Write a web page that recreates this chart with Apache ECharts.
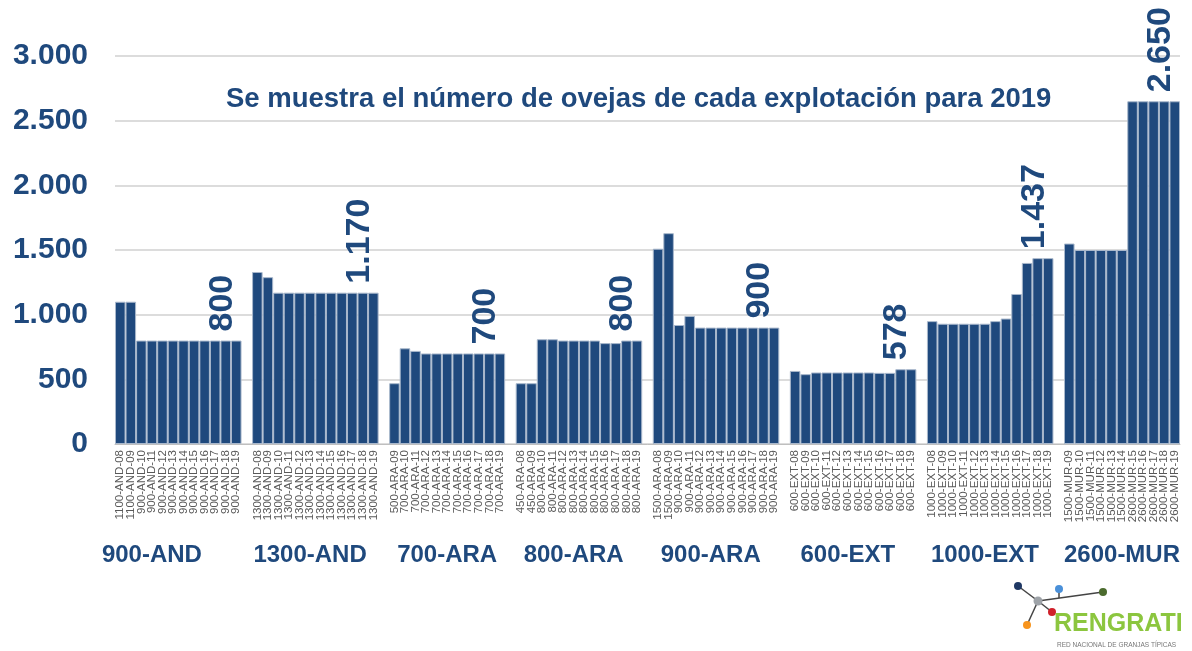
<!DOCTYPE html>
<html>
<head>
<meta charset="utf-8">
<title>Ovejas por explotación 2019</title>
<script src="https://cdn.jsdelivr.net/npm/echarts@6/dist/echarts.min.js"></script>
<style>
  html, body { margin: 0; padding: 0; background: #fff; }
  #chart { width: 1192px; height: 651px; }
</style>
</head>
<body>
<div id="chart"></div>
<script>
// grupos de explotaciones
var groups = ['900-AND', '1300-AND', '700-ARA', '800-ARA', '900-ARA', '600-EXT', '1000-EXT', '2600-MUR'];

// etiquetas de cada barra
var cats900AND = ['1100-AND-08', '1100-AND-09', '900-AND-10', '900-AND-11', '900-AND-12', '900-AND-13', '900-AND-14', '900-AND-15', '900-AND-16', '900-AND-17', '900-AND-18', '900-AND-19'];
var cats1300AND = ['1300-AND-08', '1300-AND-09', '1300-AND-10', '1300-AND-11', '1300-AND-12', '1300-AND-13', '1300-AND-14', '1300-AND-15', '1300-AND-16', '1300-AND-17', '1300-AND-18', '1300-AND-19'];
var cats700ARA = ['500-ARA-09', '700-ARA-10', '700-ARA-11', '700-ARA-12', '700-ARA-13', '700-ARA-14', '700-ARA-15', '700-ARA-16', '700-ARA-17', '700-ARA-18', '700-ARA-19'];
var cats800ARA = ['450-ARA-08', '450-ARA-09', '800-ARA-10', '800-ARA-11', '800-ARA-12', '800-ARA-13', '800-ARA-14', '800-ARA-15', '800-ARA-16', '800-ARA-17', '800-ARA-18', '800-ARA-19'];
var cats900ARA = ['1500-ARA-08', '1500-ARA-09', '900-ARA-10', '900-ARA-11', '900-ARA-12', '900-ARA-13', '900-ARA-14', '900-ARA-15', '900-ARA-16', '900-ARA-17', '900-ARA-18', '900-ARA-19'];
var cats600EXT = ['600-EXT-08', '600-EXT-09', '600-EXT-10', '600-EXT-11', '600-EXT-12', '600-EXT-13', '600-EXT-14', '600-EXT-15', '600-EXT-16', '600-EXT-17', '600-EXT-18', '600-EXT-19'];
var cats1000EXT = ['1000-EXT-08', '1000-EXT-09', '1000-EXT-10', '1000-EXT-11', '1000-EXT-12', '1000-EXT-13', '1000-EXT-14', '1000-EXT-15', '1000-EXT-16', '1000-EXT-17', '1000-EXT-18', '1000-EXT-19'];
var cats2600MUR = ['1500-MUR-09', '1500-MUR-10', '1500-MUR-11', '1500-MUR-12', '1500-MUR-13', '1500-MUR-14', '2600-MUR-15', '2600-MUR-16', '2600-MUR-17', '2600-MUR-18', '2600-MUR-19'];

// numero de ovejas
var vals900AND = [1100, 1100, 800, 800, 800, 800, 800, 800, 800, 800, 800, 800];
var vals1300AND = [1330, 1290, 1170, 1170, 1170, 1170, 1170, 1170, 1170, 1170, 1170, 1170];
var vals700ARA = [470, 740, 720, 700, 700, 700, 700, 700, 700, 700, 700];
var vals800ARA = [470, 470, 810, 810, 800, 800, 800, 800, 780, 780, 800, 800];
var vals900ARA = [1510, 1630, 920, 990, 900, 900, 900, 900, 900, 900, 900, 900];
var vals600EXT = [565, 540, 553, 553, 553, 553, 553, 553, 550, 550, 578, 578];
var vals1000EXT = [950, 930, 930, 930, 930, 930, 950, 970, 1160, 1400, 1437, 1437];
var vals2600MUR = [1550, 1500, 1500, 1500, 1500, 1500, 2650, 2650, 2650, 2650, 2650];

var yTicks = [0, 500, 1000, 1500, 2000, 2500, 3000];

var allCats = [cats900AND, cats1300AND, cats700ARA, cats800ARA, cats900ARA, cats600EXT, cats1000EXT, cats2600MUR];
var allVals = [vals900AND, vals1300AND, vals700ARA, vals800ARA, vals900ARA, vals600EXT, vals1000EXT, vals2600MUR];

var azul = '#1f497d';

function miles(v) {
    return String(v).replace(/\B(?=(\d{3})+(?!\d))/g, '.');
}

// montar categorias con un hueco entre grupos
var categories = [];
var groupAxis = [];
var seriesData = [];
for (var g = 0; g < allCats.length; g++) {
    if (g > 0) {
        categories.push('');
        groupAxis.push('');
        seriesData.push('-');
    }
    var slotNombre = g === 0 ? 3 : 5; // el primero va algo a la izquierda
    for (var i = 0; i < allCats[g].length; i++) {
        categories.push(allCats[g][i]);
        groupAxis.push(i === slotNombre ? groups[g] : '');
        var last = i === allCats[g].length - 1;
        seriesData.push({
            value: allVals[g][i],
            label: { show: last }
        });
    }
}

var myChart = echarts.init(document.getElementById('chart'));

var option = {
    animation: false,
    title: {
        text: 'Se muestra el número de ovejas de cada explotación para 2019',
        left: 221,
        top: 80,
        textStyle: {
            color: azul,
            fontFamily: 'Liberation Sans, Arial',
            fontWeight: 'bold',
            fontSize: 27.5
        }
    },
    grid: {
        left: 115,
        right: 12,
        top: 56,
        bottom: 207
    },
    xAxis: [{
        type: 'category',
        data: categories,
        axisLine: { lineStyle: { color: '#bfbfbf', width: 1 } },
        axisTick: { show: false },
        axisLabel: {
            interval: 0,
            rotate: 90,
            margin: 6,
            color: '#595959',
            fontFamily: 'Liberation Sans, Arial',
            fontSize: 11.5
        }
    }, {
        type: 'category',
        position: 'bottom',
        data: groupAxis,
        axisLine: { show: false },
        axisTick: { show: false },
        axisLabel: {
            interval: 0,
            margin: 99,
            color: azul,
            fontFamily: 'Liberation Sans, Arial',
            fontWeight: 'bold',
            fontSize: 24
        }
    }],
    yAxis: {
        type: 'value',
        min: yTicks[0],
        max: yTicks[yTicks.length - 1],
        interval: 500,
        axisLine: { show: false },
        axisTick: { show: false },
        splitLine: { lineStyle: { color: '#d0d0d0', width: 1.5 } },
        axisLabel: {
            margin: 27,
            color: azul,
            fontFamily: 'Liberation Sans, Arial',
            fontWeight: 'bold',
            fontSize: 30,
            formatter: function (v) { return miles(v); }
        }
    },
    series: [{
        type: 'bar',
        xAxisIndex: 0,
        data: seriesData,
        barCategoryGap: '0%',
        itemStyle: {
            color: azul,
            borderColor: '#a9b8cc',
            borderWidth: 1
        },
        label: {
            position: 'top',
            rotate: 90,
            align: 'left',
            verticalAlign: 'middle',
            // el offset gira con el texto: [arriba, izquierda]
            offset: [4, -14],
            color: azul,
            fontFamily: 'Liberation Sans, Arial',
            fontWeight: 'bold',
            fontSize: 34,
            formatter: function (p) { return miles(p.value); }
        }
    }],
    graphic: [{
        type: 'group',
        left: 1014,
        top: 582,
        children: [
            { type: 'line', shape: { x1: 6, y1: 6, x2: 26, y2: 21 }, style: { stroke: '#444', lineWidth: 1.5 } },
            { type: 'line', shape: { x1: 26, y1: 21, x2: 91, y2: 12 }, style: { stroke: '#444', lineWidth: 1.5 } },
            { type: 'line', shape: { x1: 47, y1: 9, x2: 47, y2: 18 }, style: { stroke: '#444', lineWidth: 1.5 } },
            { type: 'line', shape: { x1: 26, y1: 21, x2: 40, y2: 32 }, style: { stroke: '#444', lineWidth: 1.5 } },
            { type: 'line', shape: { x1: 26, y1: 21, x2: 15, y2: 45 }, style: { stroke: '#444', lineWidth: 1.5 } },
            { type: 'circle', shape: { cx: 6, cy: 6, r: 4 }, style: { fill: '#1f3864' } },
            { type: 'circle', shape: { cx: 47, cy: 9, r: 4 }, style: { fill: '#4a90d9' } },
            { type: 'circle', shape: { cx: 91, cy: 12, r: 4 }, style: { fill: '#4b6b2e' } },
            { type: 'circle', shape: { cx: 26, cy: 21, r: 4.5 }, style: { fill: '#9ea3a8' } },
            { type: 'circle', shape: { cx: 40, cy: 32, r: 4 }, style: { fill: '#d0202a' } },
            { type: 'circle', shape: { cx: 15, cy: 45, r: 4 }, style: { fill: '#f7941d' } }
        ]
    }, {
        type: 'text',
        left: 1054,
        top: 612,
        style: {
            text: 'RENGRATI',
            fill: '#8cc63f',
            font: 'bold 25px "Liberation Sans", Arial'
        }
    }, {
        type: 'text',
        left: 1057,
        top: 642,
        style: {
            text: 'RED NACIONAL DE GRANJAS TÍPICAS',
            fill: '#777',
            font: '6.5px "Liberation Sans", Arial'
        }
    }]
};

option && myChart.setOption(option);
</script>
</body>
</html>
